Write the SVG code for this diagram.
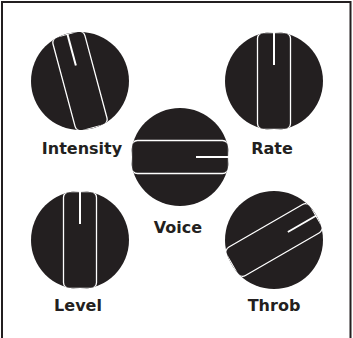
<svg xmlns="http://www.w3.org/2000/svg" width="353" height="338" viewBox="0 0 353 338">
<style>
.k{fill:#231f20}
.bar{fill:#231f20;stroke:#fff;stroke-width:1.3}
.ind{stroke:#fff;stroke-width:2}
.lbl{font-family:"DejaVu Sans","Liberation Sans",sans-serif;font-weight:bold;font-size:16px;fill:#231f20;text-anchor:middle}
.frame{fill:none;stroke:#231f20;stroke-width:2}
</style>
<defs>
<clipPath id="c"><circle r="49"/></clipPath>
</defs>
<path class="frame" d="M2,338 V2 H350.5 V338"/>
<g id="intensity" transform="translate(80,81)">
<circle class="k" r="49"/>
<g clip-path="url(#c)" transform="rotate(-15)">
<rect class="bar" x="-16.5" y="-48.5" width="33" height="97" rx="6"/>
<line class="ind" x1="0" y1="-49" x2="0" y2="-16"/>
</g>
<text class="lbl" x="2" y="73">Intensity</text>
</g>
<g id="rate" transform="translate(274,81)">
<circle class="k" r="49"/>
<g clip-path="url(#c)">
<rect class="bar" x="-16.5" y="-48.5" width="33" height="97" rx="6"/>
<line class="ind" x1="0" y1="-49" x2="0" y2="-16"/>
</g>
<text class="lbl" x="-2" y="73">Rate</text>
</g>
<g id="voice" transform="translate(180,157)">
<circle class="k" r="49"/>
<g clip-path="url(#c)" transform="rotate(90)">
<rect class="bar" x="-16.5" y="-48.5" width="33" height="97" rx="6"/>
<line class="ind" x1="0" y1="-49" x2="0" y2="-16"/>
</g>
<text class="lbl" x="-2" y="76">Voice</text>
</g>
<g id="level" transform="translate(80,240)">
<circle class="k" r="49"/>
<g clip-path="url(#c)">
<rect class="bar" x="-16.5" y="-48.5" width="33" height="97" rx="6"/>
<line class="ind" x1="0" y1="-49" x2="0" y2="-16"/>
</g>
<text class="lbl" x="-2" y="71">Level</text>
</g>
<g id="throb" transform="translate(274,240)">
<circle class="k" r="49"/>
<g clip-path="url(#c)" transform="rotate(60)">
<rect class="bar" x="-16.5" y="-48.5" width="33" height="97" rx="6"/>
<line class="ind" x1="0" y1="-49" x2="0" y2="-16"/>
</g>
<text class="lbl" x="0" y="71">Throb</text>
</g>
</svg>
